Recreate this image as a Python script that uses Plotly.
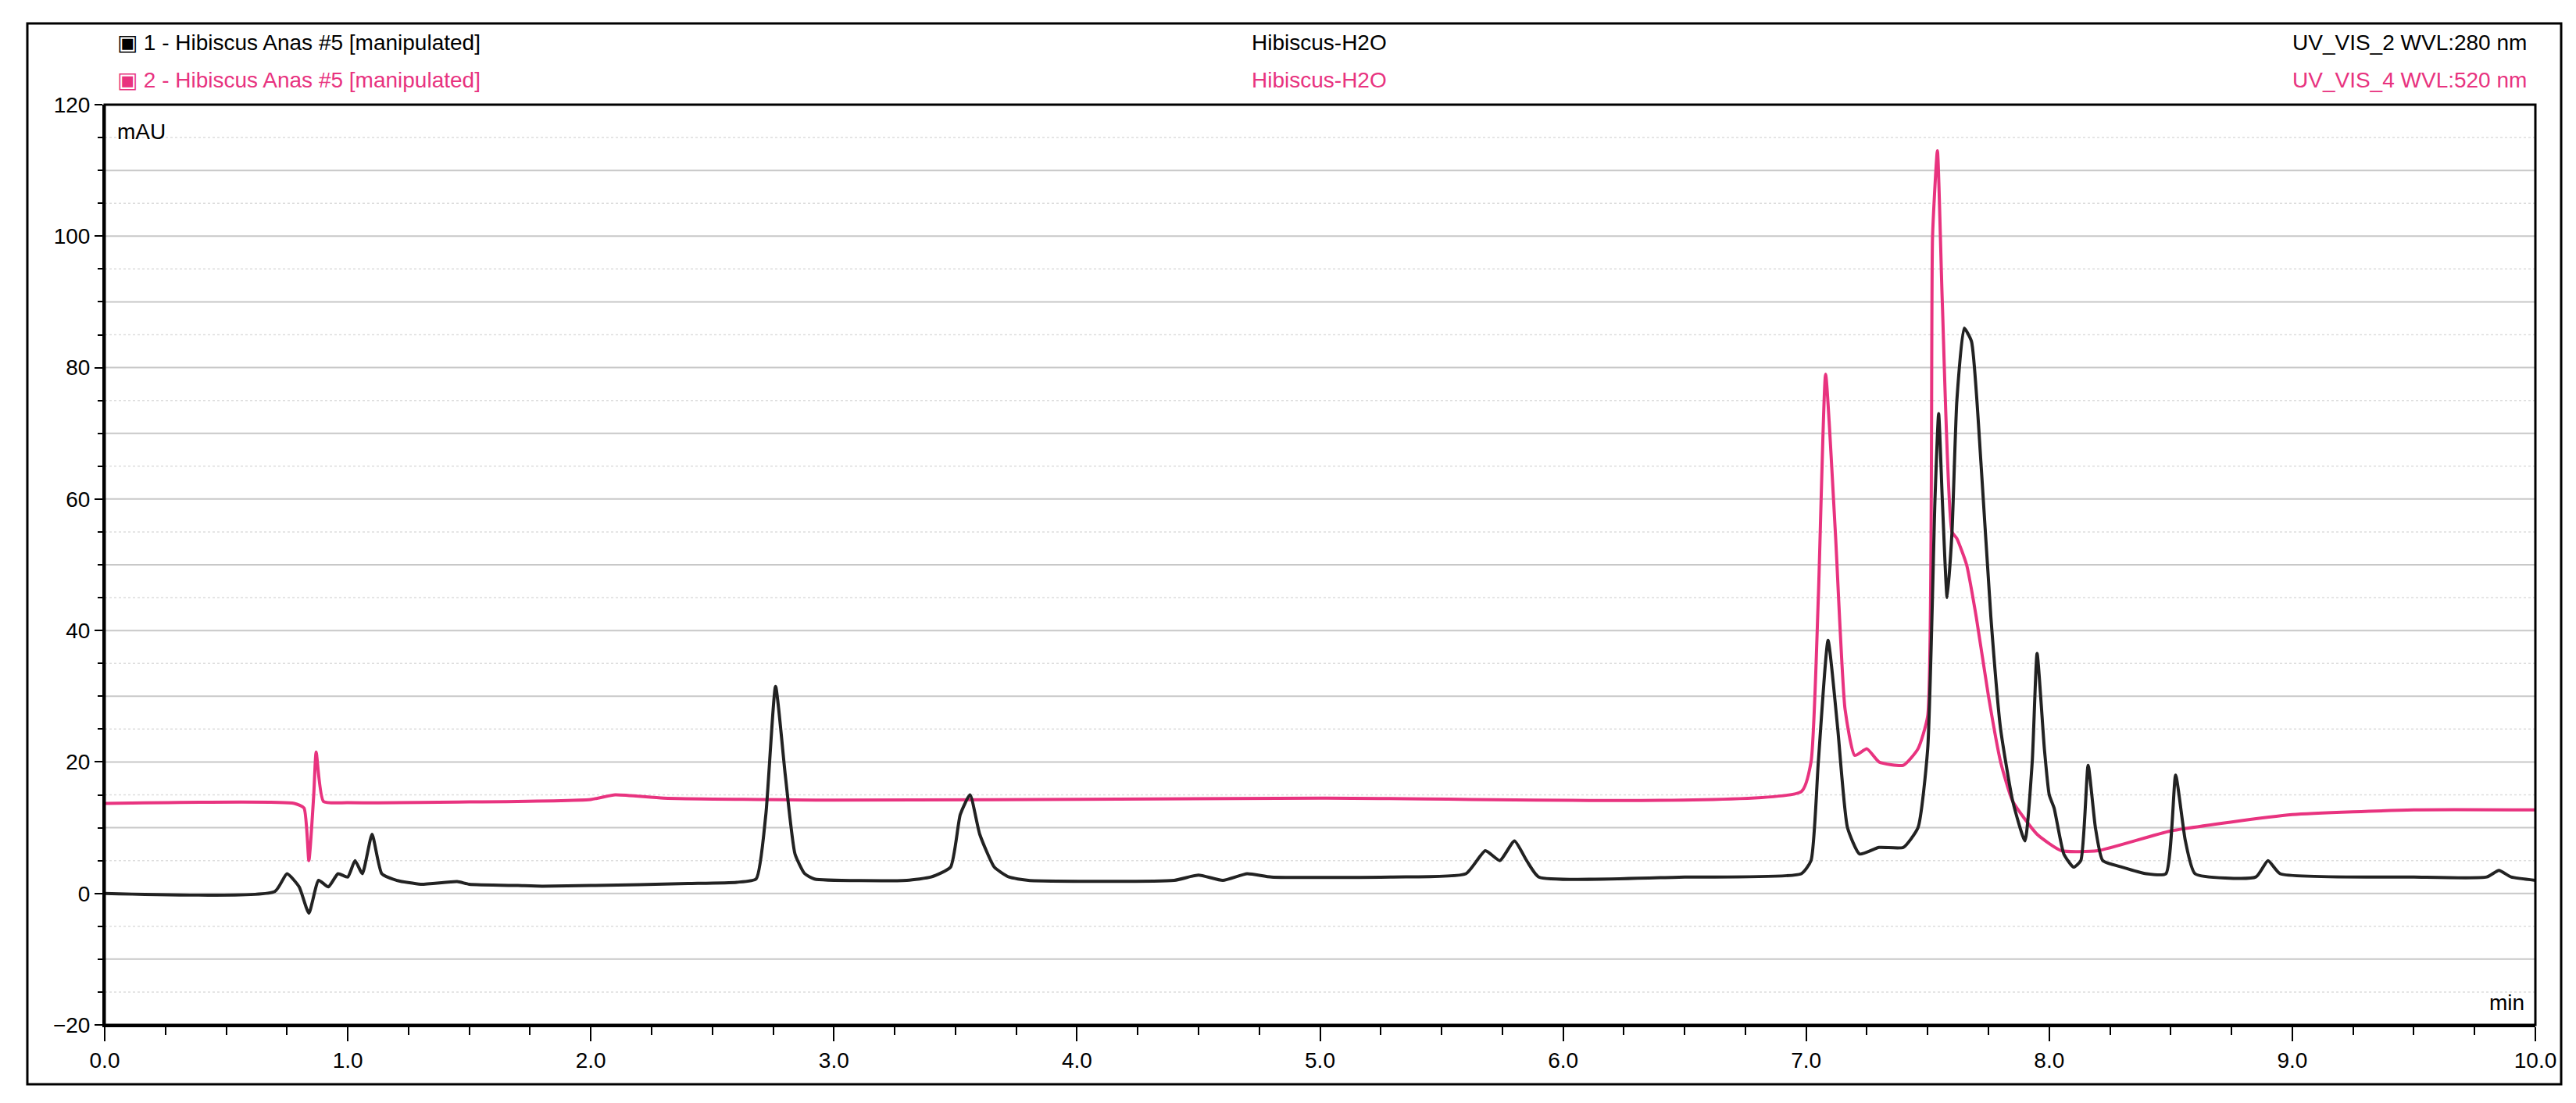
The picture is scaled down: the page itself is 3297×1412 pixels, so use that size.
import plotly.graph_objects as go

# Trace 1 (UV_VIS_2, 280 nm) - black
t1_min = [0, 0.7, 0.75, 0.8, 0.84, 0.88, 0.92, 0.96, 1.0, 1.03, 1.06, 1.1, 1.14, 1.2, 1.3, 1.45, 1.5, 1.7, 1.8, 2.0, 2.4, 2.6, 2.68, 2.72, 2.76, 2.8, 2.84, 2.88, 2.92,
          3.3, 3.4, 3.48, 3.52, 3.56, 3.6, 3.66, 3.72, 3.8, 4.4, 4.5, 4.6, 4.7, 4.8, 5.3, 5.6, 5.68, 5.74, 5.8, 5.85, 5.9, 6.5, 6.98, 7.02, 7.05, 7.09, 7.13, 7.17, 7.22,
          7.3, 7.4, 7.46, 7.5, 7.53, 7.545, 7.56, 7.58, 7.6, 7.62, 7.65, 7.68, 7.72, 7.76, 7.8, 7.85, 7.9, 7.93, 7.95, 7.98, 8.0, 8.02, 8.06, 8.1,
          8.13, 8.16, 8.19, 8.22, 8.3, 8.4, 8.48, 8.52, 8.56, 8.6, 8.85, 8.9, 8.95, 9.5, 9.8, 9.85, 9.9, 10.0]
t1_mau = [0, 0.3, 3, 1, -3, 2, 1, 3, 2.5, 5, 3, 9, 3, 2, 1.4, 1.8, 1.4, 1.2, 1.1, 1.2, 1.5, 1.7, 2.2, 12, 31.5, 18, 6, 3, 2.2,
          2, 2.5, 4, 12, 15, 9, 4, 2.5, 2, 2, 2.8, 2, 3, 2.5, 2.5, 3, 6.5, 5, 8, 5, 2.5, 2.5, 3, 5, 20, 38.5, 25, 10, 6,
          7, 7, 10, 22, 60, 73, 60, 45, 55, 75, 86, 84, 65, 42, 25, 14, 8, 20, 36.5, 22, 15, 13, 6, 4,
          5, 19.5, 10, 5, 4, 3, 3, 18, 8, 3, 2.5, 5, 3, 2.5, 2.5, 3.5, 2.5, 2]

# Trace 2 (UV_VIS_4, 520 nm) - pink
t2_min = [0, 0.78, 0.82, 0.84, 0.86, 0.87, 0.9, 1.0, 2.0, 2.1, 2.3, 3.0, 5.0, 6.98, 7.02, 7.05, 7.08, 7.12, 7.16, 7.2, 7.25, 7.3, 7.4, 7.46, 7.5,
          7.52, 7.54, 7.56, 7.6, 7.62, 7.66, 7.7, 7.75, 7.8, 7.85, 7.95, 8.05, 8.2, 8.5, 9.0, 9.5, 10.0]
t2_mau = [13.7, 13.7, 13, 5, 15, 21.5, 14, 13.8, 14.3, 15, 14.5, 14.2, 14.5, 15.5, 20, 45, 79, 55, 28, 21, 22, 20, 19.5, 22, 27,
          100, 113, 90, 55, 54, 50, 42, 30, 20, 14, 9, 6.5, 6.5, 9.5, 12, 12.7, 12.7]

x_ticks = [0, 1, 2, 3, 4, 5, 6, 7, 8, 9, 10]
y_ticks = [-20, 0, 20, 40, 60, 80, 100, 120]

W, H = 3297, 1412
L, R, T, B = 126, 3237, 126, 1304
FONT = "Liberation Sans Narrow, Liberation Sans, Arial"
PINK = "#e8337f"

fig = go.Figure()
fig.add_trace(go.Scatter(x=t2_min, y=t2_mau, mode="lines", line=dict(color=PINK, width=4, shape="spline", smoothing=0.5), showlegend=False))
fig.add_trace(go.Scatter(x=t1_min, y=t1_mau, mode="lines", line=dict(color="#222222", width=4, shape="spline", smoothing=0.5), showlegend=False))

fig.update_layout(
    width=W, height=H, paper_bgcolor="white", plot_bgcolor="white",
    margin=dict(l=L, r=W - R, t=T, b=H - B), autosize=False,
    font=dict(family=FONT, size=26, color="black"),
    xaxis=dict(range=[0, 10], tickvals=x_ticks, ticktext=[f"{v:.1f}" for v in x_ticks],
               ticks="outside", ticklen=18, tickwidth=2, tickcolor="black",
               minor=dict(dtick=0.25, ticks="outside", ticklen=10, tickcolor="black", showgrid=False),
               showgrid=False, showline=True, linecolor="black", linewidth=3, mirror=False, zeroline=False,
               tickfont=dict(size=28)),
    yaxis=dict(range=[-20, 120], tickvals=y_ticks, ticks="outside", ticklen=10, tickwidth=2, tickcolor="black",
               minor=dict(dtick=5, ticks="outside", ticklen=6, tickcolor="black", showgrid=False),
               showgrid=False, showline=True, linecolor="black", linewidth=3, zeroline=False,
               tickfont=dict(size=28)),
)
for gy in range(-10, 120, 10):
    fig.add_hline(y=gy, line=dict(color="#c8c8c8", width=2), layer="below")
for gy in [v + 5 for v in range(-20, 120, 10)]:
    fig.add_hline(y=gy, line=dict(color="#dddddd", width=1.5, dash="dot"), layer="below")

fig.add_shape(type="rect", xref="paper", yref="paper", x0=0, x1=1, y0=0, y1=1, line=dict(color="black", width=3))
fig.add_shape(type="rect", xref="paper", yref="paper",
              x0=(27 - L) / (R - L), x1=(3270 - L) / (R - L),
              y0=(B - 1380) / (B - T), y1=(B - 22) / (B - T), line=dict(color="black", width=3))

def px(xp):
    return (xp - L) / (R - L)
def py(yp):
    return (B - yp) / (B - T)

hdr = [
    (px(140), py(47), "left", "▣ 1 - Hibiscus Anas #5 [manipulated]", "black"),
    (px(140), py(95), "left", "▣ 2 - Hibiscus Anas #5 [manipulated]", PINK),
    (px(1680), py(47), "center", "Hibiscus-H2O", "black"),
    (px(1680), py(95), "center", "Hibiscus-H2O", PINK),
    (px(3228), py(47), "right", "UV_VIS_2 WVL:280 nm", "black"),
    (px(3228), py(95), "right", "UV_VIS_4 WVL:520 nm", PINK),
]
for x, y, anc, txt, col in hdr:
    fig.add_annotation(xref="paper", yref="paper", x=x, y=y, xanchor=anc, yanchor="middle",
                       text=txt, showarrow=False, font=dict(size=28, color=col, family=FONT))
fig.add_annotation(xref="paper", yref="paper", x=px(140), y=py(160), xanchor="left", yanchor="middle",
                   text="mAU", showarrow=False, font=dict(size=28, family=FONT))
fig.add_annotation(xref="paper", yref="paper", x=px(3225), y=py(1275), xanchor="right", yanchor="middle",
                   text="min", showarrow=False, font=dict(size=28, family=FONT))

fig.write_html("out.html")
